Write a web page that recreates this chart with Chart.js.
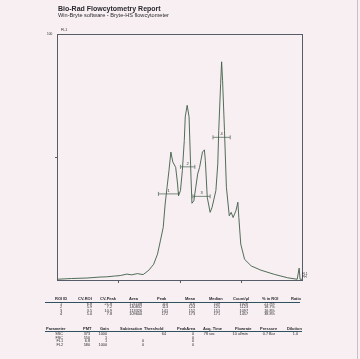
<!DOCTYPE html>
<html>
<head>
<meta charset="utf-8">
<script src="https://cdn.jsdelivr.net/npm/chart.js@4"></script>
<style>
  body { margin: 0; background: #f7eff1; }
  #page { position: relative; width: 360px; height: 359px; overflow: hidden; background: #f7eff1;
          font-family: "Liberation Sans", Arial, sans-serif; color: #2a2a30; }
  #page:after { content: ""; position: absolute; right: 2px; top: 0; width: 1px; height: 359px; background: #c9c0c4; }
  canvas { position: absolute; left: 0; top: 0; }
  .t { position: absolute; white-space: nowrap; line-height: 1; }
  .h { font-weight: bold; }
  .rule { position: absolute; height: 1px; background: #2f5260; }
</style>
</head>
<body>
<div id="page">
  <canvas id="histo" width="360" height="359"></canvas>
  <div class="t h" style="left:58px;top:5px;font-size:7px;">Bio-Rad Flowcytometry Report</div>
  <div class="t" style="left:58px;top:13px;font-size:5.6px;">Win-Bryte software - Bryte-HS flowcytometer</div>
  <div class="t" style="left:61px;top:29px;font-size:3.6px;">FL1</div>
  <div class="t" style="left:47px;top:33px;font-size:3.2px;">100</div>
  <div class="t" style="left:302px;top:273px;font-size:3.2px;">FL1<br>PH</div>
</div>
<script>
// histogram FL1 (kanaal 0..256, relatieve aantallen)
const channels = [0, 15, 31, 45, 52, 60, 66, 73, 78, 84, 90, 96, 101, 105, 108, 111, 113, 115, 117, 119,
  121, 124, 126, 127, 129, 131, 133, 134, 136, 138, 140, 141, 143, 145, 147, 149, 152, 154, 155, 157,
  160, 162, 166, 168, 169, 171, 172, 173, 175, 177, 180, 182, 184, 187, 189, 190, 192, 196, 203, 213,
  227, 241, 251, 253, 254, 256];
const counts = [0.3, 0.6, 0.8, 1.2, 1.3, 1.6, 1.8, 2.4, 2.1, 2.6, 2.2, 4.0, 6.4, 10.5, 15.9, 21.4, 30.9, 37.7, 44.5, 52,
  48, 45.8, 39, 34.3, 36.3, 44.5, 56.7, 66.3, 71, 66.3, 41.8, 31.2, 32.2, 37.7, 43.1, 45.8, 52, 52.9, 48.6, 33.6,
  27.5, 29.5, 36.3, 47.2, 60.8, 79.9, 88.7, 81.2, 60.8, 37.7, 26.1, 27.5, 25.4, 28.2, 31.6, 25.4, 14.6, 8.4, 5.7, 4.0,
  2.3, 0.9, 0.3, 4.8, 0.3, 0.3];

// ROI markers
const roiIds = ["1", "2", "3", "4"];
const roiStart = [106, 129, 142, 163];
const roiEnd = [127, 144, 160, 181];
const roiLevel = [35, 46, 34, 58];

// tabel 1
const roiHeaders = ["ROI ID", "CV-ROI", "CV-Peak", "Area", "Peak", "Mean", "Median", "Count/\u00b5l", "% in ROI", "Ratio"];
const roiCvRoi = ["6.8", "5.9", "3.5", "5.0"];
const roiCvPeak = ["21.8", "7.2", "10.9", "7.8"];
const roiArea = ["121108", "140832", "113326", "109600"];
const roiPeak = ["110", "113", "141", "172"];
const roiMean = ["116", "124", "152", "173"];
const roiMedian = ["109", "125", "151", "171"];
const roiCount = ["1026", "1123", "1097", "1457"];
const roiPercent = ["21.9%", "18.7%", "16.8%", "38.8%"];

// tabel 2
const parHeaders = ["Parameter", "PMT", "Gain", "Subtraction", "Threshold", "PeakArea", "Acq. Time", "Flowrate", "Pressure", "Dilution"];
const parNames = ["SSC", "FSC", "FL1", "FL2"];
const parPmt = ["373", "550", "6.8", "580"];
const parGain = ["1000", "1", "1", "1000"];
const parSubtraction = ["", "", "0", "0"];
const parThreshold = ["64", "", "", ""];
const parPeakArea = ["0", "0", "0", "0"];
const parAcqTime = ["78 sec", "", "", ""];
const parFlowrate = ["10 ul/min", "", "", ""];
const parPressure = ["0.7 Bar", "", "", ""];
const parDilution = ["1.0", "", "", ""];

const page = document.getElementById("page");
function addText(txt, x, y, size, cls, right) {
  const d = document.createElement("div");
  d.className = "t" + (cls ? " " + cls : "");
  d.textContent = txt;
  d.style.fontSize = size + "px";
  d.style.top = y + "px";
  if (right) d.style.right = (360 - x) + "px"; else d.style.left = x + "px";
  page.appendChild(d);
}
function addRule(x1, x2, y) {
  const r = document.createElement("div");
  r.className = "rule";
  r.style.left = x1 + "px"; r.style.width = (x2 - x1) + "px"; r.style.top = y + "px";
  page.appendChild(r);
}

// tabel 1 opbouwen
const t1HeadX = [55, 78, 100, 129, 157, 185, 209, 233, 262, 291];
const t1ValX = [62, 92, 112, 142, 168, 195, 220, 248, 275];
const t1Cols = [roiIds, roiCvRoi, roiCvPeak, roiArea, roiPeak, roiMean, roiMedian, roiCount, roiPercent];
roiHeaders.forEach((h, i) => addText(h, t1HeadX[i], 297, 4, "h"));
addRule(45, 300, 302);
t1Cols.forEach((col, c) => col.forEach((v, r) => addText(v, t1ValX[c], 303 + r * 3.3, 3.8, "", true)));

// tabel 2 opbouwen
const t2HeadX = [46, 83, 100, 120, 144, 177, 203, 235, 260, 287];
const t2ValX = [63, 90, 107, 144, 166, 194, 215, 248, 275, 298];
const t2Cols = [parNames, parPmt, parGain, parSubtraction, parThreshold, parPeakArea, parAcqTime, parFlowrate, parPressure, parDilution];
parHeaders.forEach((h, i) => addText(h, t2HeadX[i], 327, 4, "h"));
addRule(45, 302, 331);
t2Cols.forEach((col, c) => col.forEach((v, r) => { if (v) addText(v, t2ValX[c], 333 + r * 3.6, 3.8, "", true); }));

// frame + tick plugin
const framePlugin = {
  id: "frame",
  afterDraw(chart) {
    const { ctx, chartArea: a, scales } = chart;
    ctx.save();
    ctx.strokeStyle = "#575d66";
    ctx.lineWidth = 1;
    ctx.strokeRect(a.left + 0.5, a.top + 0.5, a.right - a.left, a.bottom - a.top);
    ctx.beginPath();
    [64, 128, 192].forEach(v => {
      const x = Math.round(scales.x.getPixelForValue(v)) + 0.5;
      ctx.moveTo(x, a.bottom); ctx.lineTo(x, a.bottom + 3);
    });
    const y = Math.round(scales.y.getPixelForValue(50)) + 0.5;
    ctx.moveTo(a.left - 2, y); ctx.lineTo(a.left, y);
    ctx.stroke();
    // ROI nummers
    ctx.fillStyle = "#303a34";
    ctx.font = "4px 'Liberation Sans', Arial";
    ctx.textAlign = "center";
    roiIds.forEach((id, i) => {
      const mx = scales.x.getPixelForValue((roiStart[i] + roiEnd[i]) / 2);
      const my = scales.y.getPixelForValue(roiLevel[i]);
      ctx.fillText(id, mx, my - 2);
    });
    ctx.restore();
  }
};

const datasets = [{
  data: channels.map((c, i) => ({ x: c, y: counts[i] })),
  borderColor: "#3f5e48",
  borderWidth: 0.9,
  pointRadius: 0,
  tension: 0,
  fill: false
}];
roiIds.forEach((id, i) => {
  datasets.push({
    data: [{ x: roiStart[i], y: roiLevel[i] }, { x: roiEnd[i], y: roiLevel[i] }],
    borderColor: "#7a8a7f",
    borderWidth: 1,
    pointStyle: "line",
    rotation: 90,
    pointRadius: 2,
    pointBorderColor: "#7a8a7f",
    pointBorderWidth: 1,
    fill: false
  });
});

new Chart(document.getElementById("histo").getContext("2d"), {
  type: "line",
  data: { datasets },
  options: {
    responsive: false,
    animation: false,
    layout: { padding: { left: 57, top: 34, right: 58, bottom: 79 } },
    plugins: { legend: { display: false }, tooltip: { enabled: false } },
    scales: {
      x: { type: "linear", min: 0, max: 256, display: false },
      y: { min: 0, max: 100, display: false }
    }
  },
  plugins: [framePlugin]
});
</script>
</body>
</html>
